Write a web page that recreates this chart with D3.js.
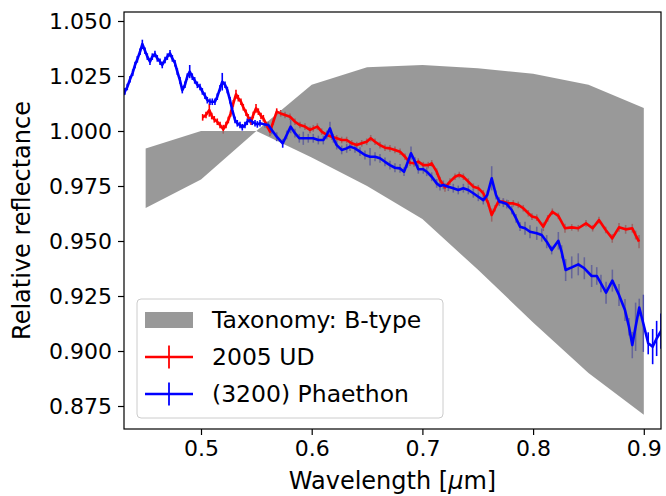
<!DOCTYPE html>
<html><head><meta charset="utf-8">
<script src="https://cdn.jsdelivr.net/npm/d3@7"></script>
<style>body{margin:0;background:#fff}svg{display:block}text{font-family:"DejaVu Sans",sans-serif;fill:#000}</style>
</head><body>
<svg id="c" width="666" height="496"></svg>
<script>
// Taxonomy B-type envelope
const taxWave  = [0.45, 0.50, 0.55, 0.60, 0.65, 0.70, 0.75, 0.80, 0.85, 0.90];
const taxUpper = [0.992, 1.000, 1.000, 1.021, 1.029, 1.030, 1.0285, 1.026, 1.021, 1.0105];
const taxLower = [0.965, 0.978, 1.000, 0.988, 0.975, 0.960, 0.937, 0.913, 0.890, 0.871];

// 2005 UD
const udWave = [0.5015,0.5045,0.5075,0.5097,0.5120,0.5147,0.5172,0.5201,0.5226,0.5247,0.5268,0.5292,0.5316,0.5337,0.5361,0.5382,0.5407,0.5427,0.5452,0.5472,0.5497,0.5518,0.5542,0.5563,0.5593,0.5623,0.5653,0.5684,0.5720,0.5759,0.5804,0.5849,0.5894,0.5939,0.5985,0.6014,0.6051,0.6090,0.6136,0.6181,0.6226,0.6271,0.6316,0.6362,0.6407,0.6452,0.6497,0.6533,0.6572,0.6617,0.6662,0.6707,0.6752,0.6798,0.6843,0.6888,0.6924,0.6963,0.7008,0.7053,0.7084,0.7129,0.7159,0.7204,0.7249,0.7295,0.7333,0.7370,0.7415,0.7460,0.7505,0.7550,0.7595,0.7626,0.7656,0.7686,0.7731,0.7776,0.7821,0.7866,0.7911,0.7957,0.7990,0.8033,0.8092,0.8132,0.8174,0.8228,0.8288,0.8349,0.8408,0.8478,0.8538,0.8595,0.8656,0.8715,0.8776,0.8836,0.8896,0.8926,0.8957];
const udRefl = [1.0062,1.0073,1.0095,1.0068,1.0053,1.0042,1.0027,1.0008,1.0027,1.0050,1.0080,1.0126,1.0167,1.0149,1.0133,1.0108,1.0083,1.0062,1.0042,1.0073,1.0103,1.0088,1.0068,1.0058,1.0027,0.9997,1.0042,1.0088,1.0080,1.0073,1.0065,1.0042,1.0027,1.0020,1.0005,1.0012,1.0020,0.9997,0.9982,0.9974,0.9967,0.9959,0.9959,0.9944,0.9936,0.9944,0.9951,0.9967,0.9951,0.9936,0.9924,0.9921,0.9914,0.9906,0.9883,0.9856,0.9853,0.9861,0.9845,0.9845,0.9853,0.9815,0.9777,0.9744,0.9770,0.9792,0.9800,0.9792,0.9770,0.9747,0.9740,0.9717,0.9671,0.9618,0.9649,0.9679,0.9679,0.9671,0.9671,0.9664,0.9649,0.9626,0.9611,0.9606,0.9565,0.9603,0.9633,0.9614,0.9558,0.9562,0.9558,0.9580,0.9558,0.9595,0.9550,0.9512,0.9562,0.9553,0.9558,0.9527,0.9497];
const udErr = [0.0015,0.0015,0.003,0.0015,0.0015,0.0015,0.0015,0.002,0.0015,0.0015,0.0015,0.0015,0.002,0.0015,0.0015,0.0015,0.0015,0.0015,0.0015,0.0015,0.002,0.0015,0.0015,0.0015,0.0015,0.002,0.0015,0.0015,0.0015,0.0015,0.0015,0.0015,0.0015,0.0015,0.0015,0.0015,0.0015,0.0015,0.0015,0.0015,0.0015,0.0015,0.0015,0.0015,0.0015,0.0015,0.0015,0.0015,0.0015,0.0015,0.0015,0.0015,0.0015,0.0015,0.0015,0.0015,0.0015,0.0015,0.0015,0.0015,0.0015,0.0015,0.0015,0.002,0.0015,0.0015,0.0015,0.0015,0.0015,0.0015,0.0015,0.0015,0.0015,0.003,0.0015,0.0015,0.0015,0.0015,0.0015,0.0015,0.0015,0.0015,0.0015,0.0015,0.002,0.0015,0.0015,0.0015,0.002,0.0015,0.0015,0.0015,0.0015,0.0015,0.0015,0.002,0.002,0.002,0.002,0.002,0.003];

// (3200) Phaethon
const phWave = [0.4285,0.4313,0.4334,0.4359,0.4383,0.4404,0.4425,0.4449,0.4470,0.4494,0.4515,0.4539,0.4560,0.4584,0.4605,0.4630,0.4650,0.4675,0.4696,0.4720,0.4741,0.4765,0.4786,0.4810,0.4831,0.4855,0.4876,0.4898,0.4921,0.4943,0.4967,0.4991,0.5012,0.5036,0.5057,0.5081,0.5102,0.5126,0.5147,0.5172,0.5192,0.5217,0.5238,0.5262,0.5283,0.5307,0.5328,0.5352,0.5373,0.5397,0.5418,0.5443,0.5463,0.5488,0.5509,0.5533,0.5578,0.5608,0.5639,0.5684,0.5738,0.5774,0.5810,0.5849,0.5888,0.5924,0.5969,0.6014,0.6060,0.6105,0.6136,0.6165,0.6195,0.6226,0.6271,0.6316,0.6346,0.6391,0.6436,0.6481,0.6527,0.6572,0.6617,0.6662,0.6707,0.6752,0.6798,0.6834,0.6864,0.6897,0.6933,0.6963,0.7008,0.7039,0.7084,0.7129,0.7159,0.7189,0.7234,0.7279,0.7324,0.7370,0.7415,0.7460,0.7505,0.7550,0.7586,0.7626,0.7665,0.7695,0.7731,0.7762,0.7807,0.7846,0.7882,0.7927,0.7972,0.8033,0.8078,0.8123,0.8168,0.8228,0.8258,0.8294,0.8349,0.8408,0.8463,0.8529,0.8575,0.8613,0.8659,0.8716,0.8776,0.8830,0.8866,0.8896,0.8926,0.8959,0.8995,0.9040,0.9080,0.9116,0.9155,0.9190];
const phRefl = [1.0155,1.0180,1.0200,1.0235,1.0265,1.0300,1.0326,1.0360,1.0395,1.0365,1.0338,1.0315,1.0338,1.0350,1.0330,1.0315,1.0300,1.0323,1.0338,1.0353,1.0330,1.0308,1.0270,1.0230,1.0186,1.0210,1.0247,1.0270,1.0247,1.0230,1.0210,1.0200,1.0180,1.0160,1.0140,1.0133,1.0133,1.0133,1.0156,1.0194,1.0224,1.0210,1.0186,1.0140,1.0095,1.0050,1.0035,1.0027,1.0017,1.0027,1.0042,1.0050,1.0042,1.0035,1.0030,1.0035,1.0030,1.0027,1.0005,0.9974,0.9944,0.9982,1.0020,0.9990,0.9967,0.9967,0.9967,0.9967,0.9959,0.9959,0.9982,1.0012,0.9967,0.9936,0.9914,0.9921,0.9929,0.9921,0.9906,0.9891,0.9883,0.9883,0.9876,0.9860,0.9845,0.9833,0.9830,0.9815,0.9853,0.9899,0.9861,0.9826,0.9826,0.9815,0.9792,0.9762,0.9750,0.9755,0.9747,0.9740,0.9732,0.9740,0.9732,0.9717,0.9701,0.9686,0.9709,0.9785,0.9709,0.9679,0.9674,0.9668,0.9641,0.9603,0.9565,0.9558,0.9542,0.9535,0.9527,0.9497,0.9459,0.9501,0.9451,0.9368,0.9380,0.9394,0.9376,0.9341,0.9341,0.9307,0.9265,0.9320,0.9255,0.9186,0.9110,0.9027,0.9110,0.9198,0.9126,0.9035,0.9020,0.9057,0.9090,0.9120];
const phErr = [0.0015,0.0015,0.0015,0.0015,0.0015,0.0015,0.0015,0.0015,0.002,0.0015,0.0015,0.0015,0.0015,0.0015,0.0015,0.0015,0.0015,0.0015,0.0015,0.0015,0.0015,0.0015,0.0015,0.0015,0.0015,0.0015,0.0015,0.003,0.0015,0.0015,0.0015,0.0015,0.0015,0.0015,0.0015,0.0015,0.0015,0.0015,0.0015,0.0015,0.004,0.0015,0.0015,0.0015,0.0015,0.0015,0.0015,0.0015,0.0015,0.0015,0.0015,0.0015,0.0015,0.0015,0.0015,0.0015,0.0015,0.0015,0.002,0.002,0.002,0.002,0.003,0.002,0.002,0.003,0.002,0.002,0.002,0.002,0.002,0.003,0.002,0.002,0.002,0.002,0.002,0.002,0.002,0.002,0.004,0.002,0.002,0.002,0.002,0.002,0.002,0.002,0.002,0.003,0.002,0.002,0.002,0.002,0.002,0.002,0.002,0.002,0.002,0.002,0.002,0.002,0.002,0.002,0.002,0.002,0.002,0.0055,0.002,0.002,0.002,0.002,0.002,0.002,0.002,0.003,0.003,0.003,0.003,0.003,0.002,0.004,0.003,0.005,0.005,0.005,0.005,0.005,0.004,0.004,0.005,0.005,0.005,0.005,0.004,0.006,0.011,0.004,0.013,0.005,0.008,0.008,0.008,0.008,0.008];

const xTicks = [0.5, 0.6, 0.7, 0.8, 0.9];
const yTicks = [0.875, 0.900, 0.925, 0.950, 0.975, 1.000, 1.025, 1.050];
const legendLabels = ["Taxonomy: B-type", "2005 UD", "(3200) Phaethon"];

const L = 124, R = 661, T = 12, B = 429;
const svg = d3.select("#c");
const x = d3.scaleLinear().domain([0.43044, 0.91554]).range([L, R]);
const y = d3.scaleLinear().domain([0.86455, 1.05409]).range([B, T]);

svg.append("defs").append("clipPath").attr("id","clip")
  .append("rect").attr("x",L).attr("y",T).attr("width",R-L).attr("height",B-T);
const g = svg.append("g").attr("clip-path","url(#clip)");

const series = [
  {w: udWave, r: udRefl, e: udErr, c: "#ff0000"},
  {w: phWave, r: phRefl, e: phErr, c: "#0000ff"}
];

// error bars (beneath the band)
series.forEach(s => {
  g.append("g").selectAll("line").data(s.w.map((w,i)=>({w, r:s.r[i], e:s.e[i]}))).join("line")
    .attr("x1", d=>x(d.w)).attr("x2", d=>x(d.w))
    .attr("y1", d=>y(d.r - d.e)).attr("y2", d=>y(d.r + d.e))
    .attr("stroke", s.c).attr("stroke-width", 1.6);
});

// taxonomy band
const tax = taxWave.map((w,i)=>({w, lo: taxLower[i], hi: taxUpper[i]}));
g.append("path").datum(tax)
  .attr("d", d3.area().x(d=>x(d.w)).y0(d=>y(d.lo)).y1(d=>y(d.hi)))
  .attr("fill", "#808080").attr("fill-opacity", 0.8);

// lines
series.forEach(s => {
  g.append("path").datum(s.w.map((w,i)=>[w, s.r[i]]))
    .attr("d", d3.line().x(d=>x(d[0])).y(d=>y(d[1])))
    .attr("fill","none").attr("stroke", s.c).attr("stroke-width", 2.6).attr("stroke-linejoin","round");
});

// axes
const fs = 22;
const xa = svg.append("g").attr("transform",`translate(0,${B})`)
  .call(d3.axisBottom(x).tickValues(xTicks).tickFormat(d3.format(".1f")).tickSize(6).tickPadding(5));
const ya = svg.append("g").attr("transform",`translate(${L},0)`)
  .call(d3.axisLeft(y).tickValues(yTicks).tickFormat(d3.format(".3f")).tickSize(6).tickPadding(6));
[xa, ya].forEach(a => {
  a.select(".domain").remove();
  a.selectAll("line").attr("stroke","#000").attr("stroke-width",1.2);
  a.selectAll("text").attr("font-size", fs).attr("font-family","DejaVu Sans").attr("fill","#000");
});
svg.append("rect").attr("x",L).attr("y",T).attr("width",R-L).attr("height",B-T)
  .attr("fill","none").attr("stroke","#000").attr("stroke-width",1.2);

svg.append("text").attr("x",(L+R)/2).attr("y",489).attr("text-anchor","middle").attr("font-size",24)
  .html('Wavelength [<tspan font-style="italic">μ</tspan>m]');
svg.append("text").attr("transform",`translate(30,${(T+B)/2}) rotate(-90)`).attr("text-anchor","middle")
  .attr("font-size",24).text("Relative reflectance");

// legend
const lg = svg.append("g");
lg.append("rect").attr("x",137).attr("y",299).attr("width",306).attr("height",119).attr("rx",4)
  .attr("fill","#fff").attr("fill-opacity",0.8).attr("stroke","#cccccc").attr("stroke-width",1);
const rows = [320, 357, 394];
lg.append("rect").attr("x",145).attr("y",312).attr("width",48).attr("height",16)
  .attr("fill","#808080").attr("fill-opacity",0.8);
[["#ff0000",rows[1]],["#0000ff",rows[2]]].forEach(([c,yy])=>{
  lg.append("line").attr("x1",145).attr("x2",193).attr("y1",yy).attr("y2",yy).attr("stroke",c).attr("stroke-width",2.6);
  lg.append("line").attr("x1",169).attr("x2",169).attr("y1",yy-11.5).attr("y2",yy+11.5).attr("stroke",c).attr("stroke-width",1.8);
});
legendLabels.forEach((t,i)=>{
  lg.append("text").attr("x",212).attr("y",rows[i]).attr("dy","0.36em").attr("font-size",23.5).text(t);
});
</script>
</body></html>
